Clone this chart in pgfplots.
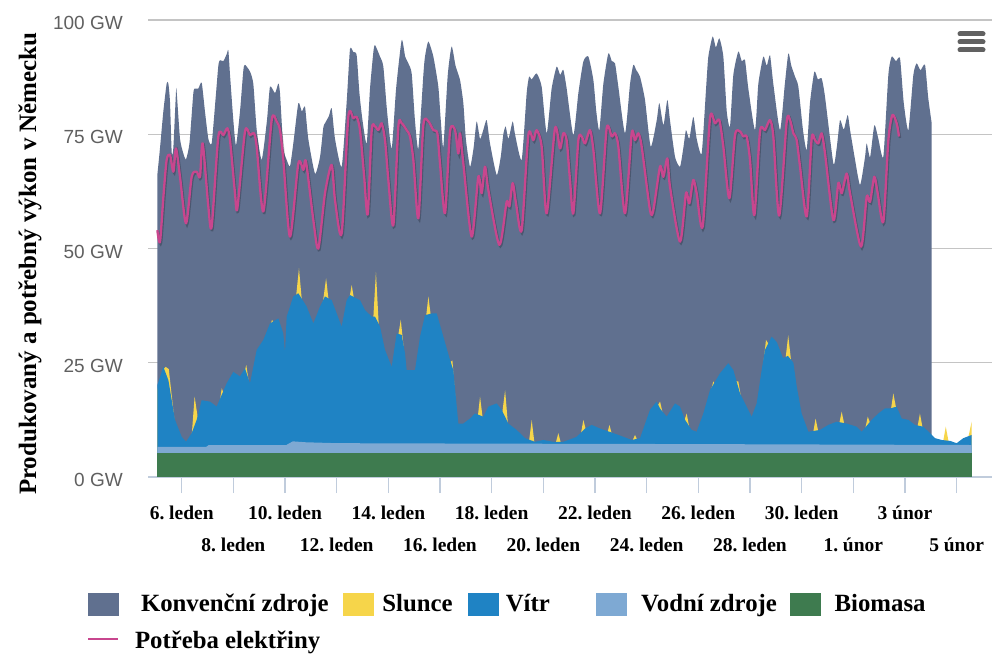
\documentclass[border=0pt]{standalone}
\usepackage{fontspec}
\setmainfont{Liberation Serif}
\newfontfamily\arialf{Liberation Sans}
\usepackage{pgfplots}
\pgfplotsset{compat=1.18}
\definecolor{konv}{HTML}{60708F}
\definecolor{slunce}{HTML}{F6D54A}
\definecolor{vitr}{HTML}{1F83C4}
\definecolor{vodni}{HTML}{7EA9D3}
\definecolor{bio}{HTML}{3E7B4F}
\definecolor{demand}{HTML}{C8468E}
\definecolor{gridc}{HTML}{C4C4C4}
\definecolor{axisc}{HTML}{C0CCDC}
\definecolor{labgray}{HTML}{606060}
\begin{document}
\frenchspacing
\begin{tikzpicture}
\useasboundingbox (0,0) rectangle (1000pt,666pt);
\fill[white] (0,0) rectangle (1000pt,666pt);
\begin{axis}[
  at={(148pt,189pt)}, anchor=south west,
  scale only axis, width=844pt, height=457pt,
  xmin=-1.305, xmax=31.37, ymin=0, ymax=100,
  axis x line*=bottom, axis y line*=left,
  x axis line style={draw=axisc, line width=1.3pt, -},
  y axis line style={draw=none},
  ymajorgrids, grid style={draw=gridc, line width=1.3pt},
  ytick={0,25,50,75,100},
  yticklabels={0 GW,25 GW,50 GW,75 GW,100 GW},
  ytick style={draw=none},
  y tick label style={font=\arialf\fontsize{19}{20}\selectfont, text=labgray, anchor=east, inner sep=0pt, xshift=-9pt, yshift=-3pt},
  xtick={0,2,...,30},
  xticklabels={6. leden,\raisebox{-32pt}{8. leden},10. leden,\raisebox{-32pt}{12. leden},14. leden,\raisebox{-32pt}{16. leden},18. leden,\raisebox{-32pt}{20. leden},22. leden,\raisebox{-32pt}{24. leden},26. leden,\raisebox{-32pt}{28. leden},30. leden,\raisebox{-32pt}{1. únor},3 únor,\raisebox{-32pt}{5 únor}},
  x tick style={draw=axisc, line width=1.3pt},
  major tick length=16pt, tick align=outside,
  x tick label style={font=\fontsize{19.5}{20}\selectfont\bfseries\frenchspacing, anchor=base, inner sep=0pt, yshift=-26pt},
  ylabel={Produkovaný a potřebný výkon v Německu},
  every axis y label/.style={at={(axis description cs:-0.1398,0.467)}, rotate=90, anchor=center, font=\fontsize{25}{26}\selectfont\bfseries},
  legend columns=5,
  legend style={at={(axis description cs:-0.07227,-0.25383)}, anchor=north west, draw=none, fill=none, inner sep=0pt, outer sep=0pt, column sep=0pt, row sep=15pt, font=\fontsize{24.8}{26}\selectfont\bfseries, nodes={inner sep=0pt, text height=17pt, text depth=5pt}, cells={anchor=west}},
]
% Konvencni zdroje (top of the stack = total production)
\addplot[fill=konv, draw=none, smooth, tension=0.35, forget plot] coordinates {
(-0.943,66.1) (-0.84,72) (-0.711,80) (-0.582,86.1) (-0.517,86.1) (-0.453,82) (-0.388,71) (-0.324,72) (-0.221,84.3) (-0.195,84.3) (-0.066,74)
(0.063,70.8) (0.167,69.5) (0.3,73) (0.45,84) (0.515,85.0) (0.644,85) (0.773,86.3) (0.9,80) (1.031,74) (1.16,73.0) (1.3,82) (1.418,90) (1.483,91.2) (1.612,91) (1.741,92.5) (1.805,93.4) (1.87,88) (1.999,78)
(2.102,72.6) (2.257,80) (2.386,89) (2.45,90.2) (2.644,88.7) (2.773,86) (2.902,76) (3.096,69.4) (3.3,78) (3.418,85.4) (3.612,84) (3.741,86.1) (3.805,84) (3.934,72)
(4.063,69.4) (4.192,68) (4.321,73) (4.515,81.8) (4.65,80) (4.773,81.0) (4.9,74) (5.16,66.4) (5.354,70) (5.483,76.5) (5.547,77.4) (5.7,79) (5.805,80.7) (5.934,74)
(6.192,67.9) (6.386,82) (6.515,93.6) (6.644,93) (6.773,92.3) (6.88,84) (7.0,78) (7.161,73) (7.29,85) (7.42,93) (7.484,94.5) (7.677,92) (7.806,89.8) (7.95,80)
(8.129,71.9) (8.3,85) (8.516,95.6) (8.65,92) (8.774,90.5) (8.903,88.3) (9.03,78) (9.161,71.9) (9.355,88) (9.419,92) (9.548,95.3) (9.742,92) (9.935,85.4) (10.03,78)
(10.129,72.3) (10.3,88) (10.451,94.2) (10.6,90) (10.774,86.9) (10.903,81.8) (11.0,74) (11.161,67.9) (11.3,72) (11.419,77.8) (11.55,74) (11.68,76) (11.806,78.1) (11.935,73)
(12.193,66.1) (12.35,70) (12.451,75) (12.542,76.7) (12.65,74) (12.813,77.8) (12.903,75) (13.161,69.4) (13.355,84) (13.45,87.6) (13.548,87) (13.742,88.3) (13.935,85.4)
(14.129,75.2) (14.322,85) (14.516,89.8) (14.65,88) (14.774,89.1) (14.903,85) (15.161,74.8) (15.356,84) (15.549,90.9) (15.743,92) (15.936,86.9) (16.05,80)
(16.168,75.9) (16.323,86) (16.517,92.7) (16.65,91) (16.775,90.5) (16.904,85.4) (17.162,75.2) (17.356,86) (17.485,90.2) (17.6,89) (17.743,87.6) (17.936,82.5)
(18.156,72.3) (18.388,78) (18.491,81.8) (18.65,77) (18.801,82.5) (18.904,78) (19.1,70) (19.291,67.9) (19.42,72) (19.523,75.9) (19.65,74) (19.807,78.8) (19.936,74)
(20.13,70.8) (20.3,85) (20.388,92) (20.556,96.4) (20.68,94) (20.814,96) (20.968,92) (21.1,80) (21.226,76.7) (21.356,88) (21.549,93.1) (21.68,91) (21.807,91.2) (21.936,85)
(22.194,75.9) (22.323,86) (22.517,92) (22.65,90) (22.775,92.3) (22.904,86) (23.162,75.9) (23.35,86) (23.486,92.7) (23.6,90) (23.744,87.6) (23.873,85.4) (24.05,76)
(24.196,71.6) (24.325,82) (24.493,88.7) (24.63,87) (24.776,87.2) (24.905,83.2) (25.228,68.6) (25.357,72) (25.486,78.1) (25.63,76) (25.783,79.2) (25.873,76) (26.05,70)
(26.26,63.9) (26.454,70) (26.518,73) (26.65,70) (26.815,77) (26.97,74) (27.163,70.1) (27.357,88) (27.486,92) (27.65,91) (27.809,91.6) (27.95,82)
(28.131,75.9) (28.325,88) (28.454,90.5) (28.6,89) (28.776,90.2) (28.9,83) (29.035,77.4)
} \closedcycle;
% Slunce (top of solar, spikes above wind)
\addplot[fill=slunce, draw=none, forget plot] coordinates {
(-0.943,19) (-0.72,23.5) (-0.62,24.1) (-0.5,23.6) (-0.4,18.5) (-0.28,12.5) (-0.27,0)
(0.38,0) (0.39,9.3) (0.5,17.6) (0.62,13) (0.63,0)
(1.4,0) (1.41,14) (1.55,19.4) (1.68,17.5) (1.69,0)
(2.35,0) (2.36,21.5) (2.5,24.5) (2.62,20) (2.63,0)
(3.38,0) (3.39,32.5) (3.5,34.4) (3.6,33) (3.61,0)
(4.4,0) (4.41,38.5) (4.54,45.7) (4.66,38) (4.67,0)
(5.45,0) (5.46,38) (5.59,43.5) (5.7,38) (5.71,0)
(6.45,0) (6.46,38) (6.58,42.0) (6.7,38) (6.71,0)
(7.4,0) (7.41,34) (7.52,44.9) (7.63,33) (7.64,0)
(8.36,0) (8.37,30.5) (8.48,34.4) (8.6,28) (8.61,0)
(9.43,0) (9.44,34) (9.55,39.5) (9.66,34.5) (9.67,0)
(10.35,0) (10.36,25) (10.48,25.5) (10.64,14) (10.65,0)
(11.43,0) (11.44,12) (11.55,17.6) (11.66,12.5) (11.67,0)
(12.4,0) (12.41,14) (12.52,19.0) (12.63,11.5) (12.64,0)
(13.43,0) (13.44,7.5) (13.55,12.5) (13.66,7.2) (13.67,0)
(14.46,0) (14.47,7.2) (14.58,9.6) (14.69,7.2) (14.7,0)
(15.43,0) (15.44,9.0) (15.55,12.5) (15.66,10) (15.67,0)
(16.44,0) (16.45,9) (16.56,11.4) (16.67,9) (16.68,0)
(17.43,0) (17.44,7.8) (17.55,9.2) (17.66,7.8) (17.67,0)
(18.4,0) (18.41,15.5) (18.52,16.5) (18.66,13) (18.67,0)
(19.43,0) (19.44,12) (19.55,13.9) (19.66,10.5) (19.67,0)
(20.46,0) (20.47,18.5) (20.58,20.9) (20.69,20) (20.7,0)
(21.43,0) (21.44,21) (21.55,20.9) (21.68,16.5) (21.69,0)
(22.5,0) (22.51,24.5) (22.62,30.0) (22.73,29) (22.74,0)
(23.36,0) (23.37,25.5) (23.48,31.0) (23.6,25) (23.61,0)
(24.43,0) (24.44,9.5) (24.54,12.8) (24.65,9.8) (24.66,0)
(25.44,0) (25.45,11.5) (25.55,14.3) (25.66,11.3) (25.67,0)
(26.45,0) (26.46,10.5) (26.56,13.2) (26.67,11.5) (26.68,0)
(27.44,0) (27.45,14.5) (27.55,18.3) (27.66,15) (27.67,0)
(28.47,0) (28.48,10.8) (28.58,13.9) (28.69,10.5) (28.7,0)
(29.47,0) (29.48,7.8) (29.58,11.0) (29.69,7.7) (29.7,0)
(30.44,0) (30.45,8.6) (30.583,12.1)
} \closedcycle;
% Vitr (top of wind)
\addplot[fill=vitr, draw=none, forget plot] coordinates {
(-0.943,20.1) (-0.711,24.1) (-0.517,21.2) (-0.259,12.5) (-0.001,8.8) (0.167,7.7) (0.386,9.6) (0.579,12.5) (0.773,16.8) (1.096,16.5) (1.354,15.4) (1.741,20.5) (1.999,23.0)
(2.257,22.0) (2.45,23.8) (2.644,20.5) (2.902,27.8) (3.16,30.0) (3.418,33.6) (3.741,34.7) (3.934,31.4) (3.999,27.1) (4.063,35.1) (4.321,39.5) (4.515,40.2) (4.838,37.3)
(5.096,33.6) (5.354,37.3) (5.547,39.5) (5.805,38.7) (6.192,32.9) (6.386,38.7) (6.515,39.8) (6.902,38.7) (7.097,36.5) (7.355,35.1) (7.484,35.1) (7.677,32.9) (7.871,27.8)
(8.129,24.1) (8.322,31.4) (8.516,31.1) (8.645,27.1) (8.709,23.4) (9.032,23.4) (9.226,30.7) (9.419,35.4) (9.677,35.8) (9.871,35.8) (10.129,30.7) (10.387,25.6) (10.516,23.4)
(10.709,11.7) (10.903,11.7) (11.161,12.8) (11.355,13.9) (11.677,13.2) (11.871,15.4) (12.193,16.1) (12.387,14.7) (12.645,11.7) (12.967,10.3) (13.29,8.5) (13.677,7.7)
(14.0,8.1) (14.387,7.7) (14.774,7.7) (15.161,8.5) (15.291,8.8) (15.614,10.6) (15.872,11.4) (16.194,10.6) (16.71,9.6) (17.097,8.8) (17.42,8.1) (17.743,8.5)
(18.13,14.7) (18.388,16.5) (18.517,15.0) (18.775,13.2) (19.098,16.1) (19.291,15.4) (19.485,12.5) (19.743,10.3) (19.936,9.9) (20.194,13.9) (20.452,19.0) (20.84,22.7)
(21.162,24.9) (21.356,23.4) (21.614,18.3) (21.807,16.1) (22.065,13.2) (22.259,16.1) (22.452,23.4) (22.581,27.8) (22.839,30.7) (23.04,29.5) (23.28,26.0) (23.47,26.5)
(23.68,25.0) (23.81,19.8) (24.0,13.9) (24.26,9.9) (24.712,10.3) (25.034,11.4) (25.357,12.1) (25.744,11.7) (26.131,11.0) (26.325,9.9) (26.712,12.5) (26.97,13.9)
(27.228,15.0) (27.422,15.0) (27.68,15.4) (27.873,12.8) (28.131,12.5) (28.389,11.4) (28.712,11.0) (28.97,9.6) (29.164,8.5) (29.422,8.1) (29.744,7.9) (30.002,7.4)
(30.261,8.5) (30.583,9.2)
} \closedcycle;
% Vodni zdroje (top of hydro)
\addplot[fill=vodni, draw=none, forget plot] coordinates {
(-0.943,6.6) (0.95,6.6) (1.05,7.0) (4.05,7.0) (4.3,7.8) (4.8,7.6) (6.0,7.4) (12,7.3) (20,7.2) (30.583,7.0)
} \closedcycle;
% Biomasa
\addplot[fill=bio, draw=none, forget plot] coordinates {
(-0.943,5.2) (30.583,5.2)
} \closedcycle;
% Potreba elektriny (demand): shadow, then line
\pgfplotstableread{
x y
-0.943 54.0
-0.84 51.5
-0.7 62
-0.582 69.4
-0.453 70.5
-0.324 66.8
-0.221 71.9
-0.066 65.7
0.167 55.5
0.386 65.7
0.579 66.8
0.708 65.7
0.812 73.0
1.031 59.2
1.16 54.8
1.418 74.5
1.612 74.8
1.767 76.3
1.87 73.7
2.063 62.1
2.154 58.8
2.45 75.6
2.644 74.8
2.799 75.2
2.902 72.3
3.16 58.1
3.483 78.1
3.676 77.8
3.805 75.9
3.934 69.4
4.192 52.6
4.515 68.6
4.708 67.2
4.812 69.0
5.096 56.2
5.289 50.0
5.547 62.1
5.805 68.3
5.934 60.6
6.192 53.3
6.45 78.8
6.644 78.5
6.773 78.8
6.902 75.9
7.06 66
7.2 57.5
7.355 75.9
7.484 76.7
7.613 75.9
7.742 77.4
7.871 73.7
8.0 65.0
8.193 55.1
8.387 76.7
8.516 77.4
8.709 75.9
8.838 74.5
8.967 69.4
9.161 56.6
9.355 77.0
9.548 77.8
9.742 75.9
9.897 75.2
10.0 68.6
10.193 57.7
10.387 75.6
10.58 75.9
10.709 70.8
10.774 75.2
10.903 68.6
11.226 52.6
11.484 65.7
11.613 62.1
11.742 67.9
11.871 62.8
12.297 50.8
12.58 60.2
12.684 59.2
12.813 64.3
12.942 59.9
13.161 54.0
13.419 74.8
13.613 73.7
13.742 75.9
13.935 72.3
14.129 57.7
14.452 76.3
14.645 71.9
14.774 75.2
14.903 73.7
15.032 65.0
15.161 57.7
15.356 73.7
15.485 74.5
15.614 73.0
15.807 75.9
15.936 71.6
16.194 57.7
16.452 76.3
16.646 74.5
16.775 75.2
16.904 72.3
17.162 57.7
17.42 75.2
17.549 73.7
17.678 75.2
17.807 72.3
18.13 58.4
18.259 58.4
18.517 67.9
18.646 65.7
18.801 69.7
18.904 63.5
19.291 51.5
19.523 62.1
19.652 59.9
19.807 65.0
19.936 62.1
20.169 54.8
20.452 78.5
20.646 77.4
20.814 78.1
20.968 72.3
21.201 61.0
21.42 74.8
21.614 75.6
21.743 74.5
21.872 74.5
22.001 69.4
22.169 57.3
22.388 75.6
22.581 75.9
22.775 78.1
22.904 74.5
23.13 57.2
23.422 77.8
23.551 78.1
23.68 75.2
23.809 73.7
23.938 67.9
24.196 57.0
24.389 74.1
24.518 73.7
24.647 73.0
24.776 75.2
24.905 70.8
25.228 56.2
25.422 64.3
25.551 62.1
25.744 66.4
25.873 62.1
26.299 50.4
26.518 61.3
26.647 60.2
26.815 65.7
26.944 62.1
27.163 55.9
27.357 73.7
27.512 79.2
27.68 77.4
27.77 74.5
}\demandtab
\addplot[draw=black, opacity=0.22, line width=2.4pt, smooth, tension=0.45, xshift=1pt, yshift=-1.5pt, forget plot] table[x=x, y=y] {\demandtab};
\addplot[draw=demand, line width=2.3pt, smooth, tension=0.45, line join=round, forget plot] table[x=x, y=y] {\demandtab};
% legend
\addlegendimage{legend image code/.code={\fill[konv] (0pt,-10pt) rectangle (30pt,12pt);}}
\addlegendentry{\hspace{22pt}\makebox[202pt][l]{Konvenční zdroje}}
\addlegendimage{legend image code/.code={\fill[slunce] (0pt,-10pt) rectangle (30pt,12pt);}}
\addlegendentry{\hspace{9pt}\makebox[86pt][l]{Slunce}}
\addlegendimage{legend image code/.code={\fill[vitr] (0pt,-10pt) rectangle (30pt,12pt);}}
\addlegendentry{\hspace{7pt}\makebox[90pt][l]{Vítr}}
\addlegendimage{legend image code/.code={\fill[vodni] (0pt,-10pt) rectangle (30pt,12pt);}}
\addlegendentry{\hspace{15pt}\makebox[149pt][l]{Vodní zdroje}}
\addlegendimage{legend image code/.code={\fill[bio] (0pt,-10pt) rectangle (30pt,12pt);}}
\addlegendentry{\hspace{14pt}Biomasa}
\addlegendimage{legend image code/.code={\draw[demand, line width=2pt] (0pt,3pt) -- (30pt,3pt);}}
\addlegendentry{\hspace{16pt}\makebox[208pt][l]{Potřeba elektřiny}}
\end{axis}
% menu icon
\foreach \yy in {632,624,616} {
  \draw[line width=5pt, line cap=round, color=black!62] (960pt,\yy pt) -- (983pt,\yy pt);
}
\end{tikzpicture}
\end{document}
